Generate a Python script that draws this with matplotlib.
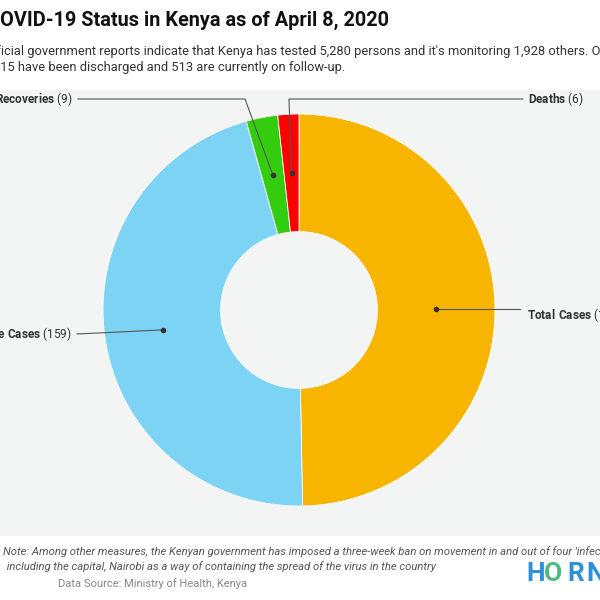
import matplotlib.pyplot as plt
import numpy as np

plt.rcParams['font.family'] = ['Roboto', 'DejaVu Sans']
plt.rcParams['mathtext.fontset'] = 'custom'
plt.rcParams['mathtext.rm'] = 'Roboto'
plt.rcParams['mathtext.bf'] = 'Roboto:bold'

labels = ['Total Cases', 'Active Cases', 'Recoveries', 'Deaths']
values = [172, 159, 9, 6]
colors = ['#f7b500', '#7dd3f3', '#33cc0f', '#ff0000']

H = 600


def py(y):
    # pixel row -> data y
    return H - y


fig = plt.figure(figsize=(6, 6), dpi=100)
ax = fig.add_axes([0, 0, 1, 1])

# plot background
ax.add_patch(plt.Rectangle((0, py(535)), 600, 445, color='#f3f4f4', zorder=0))

cx, cy, R = 299, py(310), 196
wedges, _ = ax.pie(values, colors=colors, startangle=90, counterclock=False,
                   center=(cx, cy), radius=R, frame=True,
                   wedgeprops=dict(width=R * 0.6, edgecolor='white', linewidth=0.6))
ax.set_xlim(0, 600)
ax.set_ylim(0, 600)
ax.axis('off')

# leader lines: (bend points in pixels), text anchor, alignment
leaders = {
    'Total Cases': ([(520, None)], (527, 315), 'left'),
    'Active Cases': ([(77, 334)], (72, 334), 'right'),
    'Recoveries': ([(245, 99), (78, 99)], (73, 99), 'right'),
    'Deaths': ([(289, 99), (523, 99)], (528, 99), 'left'),
}
for w, lab, val in zip(wedges, labels, values):
    ang = np.deg2rad((w.theta1 + w.theta2) / 2)
    dx, dy = cx + 0.70 * R * np.cos(ang), cy + 0.70 * R * np.sin(ang)
    pts, (tx, ty), ha = leaders[lab]
    xs, ys = [dx], [dy]
    for bx, by in pts:
        xs.append(bx)
        ys.append(dy if by is None else py(by))
    ax.plot(xs, ys, color='#555555', lw=0.8, zorder=5)
    ax.plot(dx, dy, 'o', color='#333333', ms=3, zorder=6)
    name = lab.replace(' ', r'\ ')
    ax.text(tx, py(ty), r'$\bf{' + name + '}$ (' + str(val) + ')',
            ha=ha, va='center', fontsize=8.5, color='#333333')

ax.text(-13, py(20), 'COVID-19 Status in Kenya as of April 8, 2020',
        fontsize=14.3, fontweight='bold', color='#111111', va='center')
ax.text(-17, py(51), "Official government reports indicate that Kenya has tested 5,280 persons "
        "and it's monitoring 1,928 others. Of these,", fontsize=9.3, color='#333333', va='center')
ax.text(-17, py(67), "1,415 have been discharged and 513 are currently on follow-up.",
        fontsize=9.3, color='#333333', va='center')

ax.text(3, py(552), "Note: Among other measures, the Kenyan government has imposed a three-week ban "
        "on movement in and out of four 'infected' counties,", fontsize=8.1, style='italic',
        color='#555555', va='center')
ax.text(4, py(567), " including the capital, Nairobi as a way of containing the spread of the virus in the country",
        fontsize=8.1, style='italic', color='#555555', va='center')
ax.text(58, py(584), 'Data Source: Ministry of Health, Kenya', fontsize=8,
        color='#888888', va='center')

# logo
for letter, lx, lc in [('H', 526, '#2f8fd8'), ('O', 544, '#4dbb7c'),
                       ('R', 567, '#2f8fd8'), ('N', 586, '#2f8fd8')]:
    ax.text(lx, py(574), letter, fontsize=19, fontweight='bold', color=lc, va='center')

fig.savefig('out.png', dpi=100)
